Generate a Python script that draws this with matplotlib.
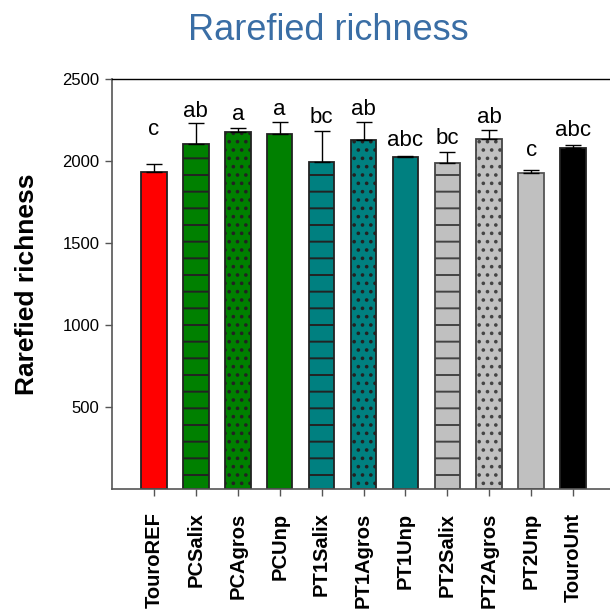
import matplotlib
matplotlib.use("Agg")
import matplotlib.pyplot as plt
import numpy as np

plt.rcParams['font.family'] = ['Liberation Sans', 'DejaVu Sans']
plt.rcParams['hatch.linewidth'] = 1.4

# Treatment groups and their rarefied richness (mean, upper SE)
categories = ["TouroREF", "PCSalix", "PCAgros", "PCUnp", "PT1Salix", "PT1Agros",
              "PT1Unp", "PT2Salix", "PT2Agros", "PT2Unp", "TouroUnt"]
means = [1935, 2102, 2175, 2167, 1996, 2126, 2023, 1988, 2136, 1929, 2079]
errors = [45, 128, 28, 71, 189, 110, 10, 69, 55, 14, 17]
letters = ["c", "ab", "a", "a", "bc", "ab", "abc", "bc", "ab", "c", "abc"]
letter_y = [2195, 2301, 2285, 2315, 2267, 2315, 2128, 2136, 2264, 2067, 2185]

fills = ["#FF0000", "#008000", "#008000", "#008000", "#008080", "#008080",
         "#008080", "#C0C0C0", "#C0C0C0", "#C0C0C0", "#000000"]
hatches = [None, "-", "..", None, "-", "..", None, "-", "..", None, None]
edges = ["#222222"] * 7 + ["#444444", "#444444", "#555555", "#222222"]

fig = plt.figure(figsize=(6.10, 6.14), dpi=100)
ax = fig.add_axes([112 / 610, 1 - 489 / 614, 1 - 112 / 610, (489 - 79) / 614])

x = np.arange(len(categories))
for i in range(len(categories)):
    ax.bar(x[i], means[i], width=0.61, color=fills[i], edgecolor=edges[i],
           linewidth=1.3, hatch=hatches[i], zorder=2)
ax.errorbar(x, means, yerr=[np.zeros(len(errors)), errors], fmt="none",
            ecolor="black", elinewidth=1.0, capsize=6, capthick=1.0, zorder=3)

for xi, lab, ly in zip(x, letters, letter_y):
    ax.text(xi, ly, lab, ha="center", va="center", fontsize=16, color="black")

ax.set_xlim(-1.0, 10.88)
ax.set_ylim(0, 2500)
ax.set_yticks([500, 1000, 1500, 2000, 2500])
ax.set_yticklabels(["500", "1000", "1500", "2000", "2500"], fontsize=12)
ax.set_xticks(x)
ax.set_xticklabels(categories, rotation=90, fontsize=14.5, fontweight="bold")
ax.tick_params(axis="both", direction="out", length=5, width=1, color="#555555")
ax.tick_params(axis="y", pad=4)
ax.tick_params(axis="x", pad=12)

ax.spines["right"].set_visible(False)
ax.spines["top"].set_color("black")
ax.spines["top"].set_linewidth(1.0)
for s in ("left", "bottom"):
    ax.spines[s].set_color("#555555")
    ax.spines[s].set_linewidth(1.2)

ax.set_ylabel("Rarefied richness", fontsize=19, fontweight="bold", labelpad=17)
fig.text(328 / 610, 1 - 31 / 614, "Rarefied richness", ha="center", va="center",
         fontsize=26, color="#3A6EA5")

fig.savefig("out.png", dpi=100)
